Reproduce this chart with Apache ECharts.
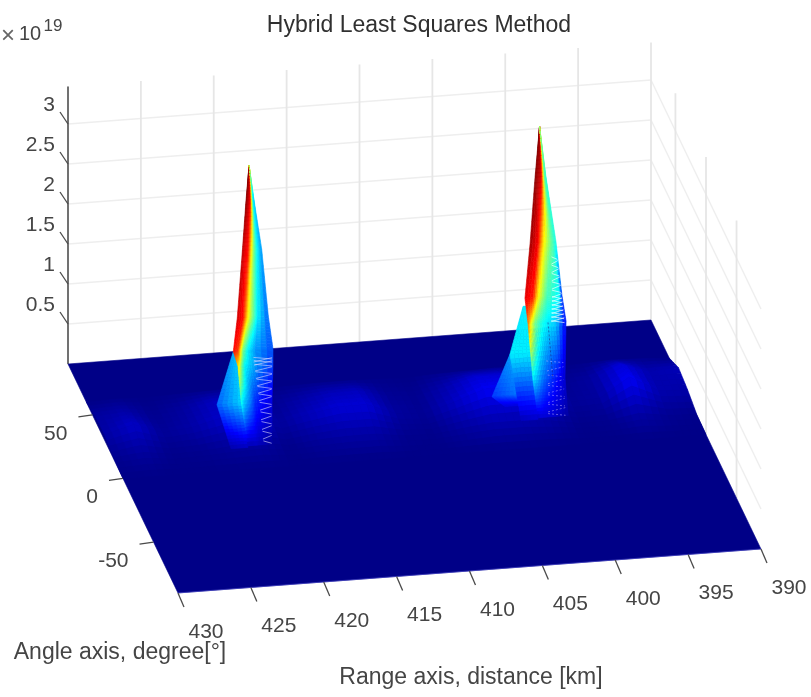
<!DOCTYPE html>
<html><head><meta charset="utf-8">
<style>html,body{margin:0;padding:0;background:#fff}#c{width:811px;height:697px}</style>
<script src="https://cdn.jsdelivr.net/npm/echarts@6/dist/echarts.min.js"></script>
</head><body><div id="c"></div>
<script>
// ---------- data ----------
const titleText = 'Hybrid Least Squares Method';
const rangeLabel = 'Range axis, distance [km]';
const angleLabel = 'Angle axis, degree[°]';
const rangeTicks = [430,425,420,415,410,405,400,395,390];
const angleTicks = [50,0,-50];
const zTicks = [0.5,1,1.5,2,2.5,3];
const zTickLabels = ['0.5','1','1.5','2','2.5','3'];
const zTop = 3.47;

// low ripples on the floor (z, units of 1e19)
const floorRanges = [430,428,426,424,422,420,418,416,414,412,410,408,406,404,402,400,398,396,394,392,390];
const floorAngles = [60,45,30,15,0];
const floorZ = [
 [.00,.01,.00,.01,.02,.03,.00,.01,.02,.02,.01,.00,.02,.03,.04,.03,.00,.01,.03,.02,.00],
 [.06,.09,.02,.06,.14,.16,.03,.08,.13,.14,.04,.02,.10,.20,.20,.14,.03,.06,.22,.10,.12],
 [.07,.17,.04,.08,.17,.20,.05,.13,.20,.20,.06,.03,.15,.28,.30,.20,.04,.06,.30,.10,.08],
 [.02,.06,.01,.02,.05,.07,.01,.05,.07,.07,.02,.01,.06,.10,.10,.07,.01,.02,.08,.03,.01],
 [.00,.00,.00,.00,.00,.00,.00,.00,.00,.00,.00,.00,.00,.00,.00,.00,.00,.00,.00,.00,.00]
];

// left peak: a coarse surface patch (rows top to foot, columns left to right)
const leftRanges = [
 [419.98,419.98,419.98,419.98,419.98,419.98,419.98],
 [420.19,420.09,419.98,419.87,419.78,419.69,419.64],
 [420.44,420.26,420.03,419.80,419.64,419.41,419.11],
 [420.79,420.37,420.21,420.03,419.73,419.41,418.66],
 [421.06,420.72,420.53,420.39,420.05,419.57,418.34],
 [420.74,420.60,420.46,420.26,419.91,419.43,418.34],
 [420.53,420.39,420.12,419.85,419.57,419.09,418.40],
 [420.74,420.60,420.39,420.19,419.91,419.50,419.09]
];
const leftAngles = [32.7,32.7,32.7,32.7,32.7,32.7,32.7,16.4];
const leftZ = [3.26,2.82,2.195,1.357,.945,.7575,.32,.02];
const leftC = [
 [1,1,.99,.97,.92,.7,.5],
 [1,.96,.92,.88,.6,.38,.33],
 [.95,.9,.87,.63,.5,.37,.27],
 [.92,.86,.75,.63,.5,.37,.22],
 [.87,.82,.63,.5,.37,.28,.2],
 [.68,.6,.48,.38,.33,.27,.18],
 [.42,.36,.3,.25,.18,.14,.1],
 [.05,.05,.05,.06,.05,.04,.02]
];
const leftWingRanges = [[421.06,420.74],[422.18,420.39],[421.90,420.74]];
const leftWingAngles = [32.7,32.7,16.4];
const leftWingZ = [.945,.295,0];
const leftWingC = [[.3,.33],[.22,.34],[.04,.06]];

// right peak
const rightRanges = [
 [400.05,400.05,400.05,400.05,400.05,400.05,400.05],
 [400.36,400.19,399.97,399.88,399.74,399.67,399.61],
 [400.70,400.15,399.95,399.74,399.33,399.13,398.92],
 [401.05,400.48,400.13,399.74,399.54,398.65,398.51],
 [400.84,400.63,400.36,399.88,399.47,398.92,398.23],
 [400.50,400.15,399.81,399.47,399.13,398.65,398.30],
 [400.64,400.43,400.15,399.95,399.61,399.13,398.58]
];
const rightAngles = [32.7,32.7,32.7,32.7,32.7,32.7,21.1];
const rightZ = [3.47,2.836,2.011,1.336,1.011,.299,.02];
const rightC = [
 [1,1,.99,.97,.85,.6,.5],
 [1,.96,.93,.85,.55,.45,.42],
 [.97,.88,.75,.63,.5,.45,.4],
 [.9,.85,.63,.5,.45,.37,.15],
 [.78,.63,.5,.4,.36,.33,.12],
 [.35,.3,.24,.2,.17,.12,.08],
 [.06,.08,.08,.08,.08,.06,.03]
];
const rightWingRanges = [[401.18,400.98],[402.08,400.63],[401.80,400.64]];
const rightWingAngles = [32.7,32.7,21.1];
const rightWingZ = [1.236,.649,0];
const rightWingC = [[.35,.36],[.36,.36],[.05,.07]];
const rightLobeRanges = [[402.08,401.87],[403.31,401.53],[402.42,401.25]];
const rightLobeAngles = [32.7,32.7,32.7];
const rightLobeZ = [.649,.136,0];
const rightLobeC = [[.28,.3],[.18,.24],[.09,.09]];

// ---------- plot geometry ----------
const ORIGIN = [68,364];        // range 430, angle 90, z 0
const PER_KM = [14.575,-1.1];
const PER_DEG = [0.611,1.272];
const PER_Z = 80;
const FLOOR_GAIN = 1.4;
const FONT = '"Liberation Sans",Arial,sans-serif';
const TXT = '#454545', GRID_V = '#e6e6e6', GRID_H = '#eeeeee';

function project(r,a,z){
  const u = 430-r, v = 90-a;
  return [ORIGIN[0]+PER_KM[0]*u+PER_DEG[0]*v, ORIGIN[1]+PER_KM[1]*u+PER_DEG[1]*v-PER_Z*z];
}
function jet(c){
  c = Math.max(0,Math.min(1,c));
  const seg = (stops)=>{
    for(let i=1;i<stops.length;i++){
      if(c<=stops[i][0]){const t=(c-stops[i-1][0])/(stops[i][0]-stops[i-1][0]);return stops[i-1][1]+(stops[i][1]-stops[i-1][1])*t;}
    }
    return stops[stops.length-1][1];
  };
  const r = seg([[0,0],[.375,0],[.625,255],[.875,255],[1,128]]);
  const g = seg([[0,0],[.125,0],[.375,255],[.625,255],[.875,0],[1,0]]);
  const b = seg([[0,135],[.125,255],[.375,255],[.625,0],[1,0]]);
  return 'rgb('+Math.round(r)+','+Math.round(g)+','+Math.round(b)+')';
}
const lerp=(p,q,t)=>p+(q-p)*t;
function patchPoint(m,ci,rj){
  const j0=Math.min(Math.floor(rj),m.ranges.length-2), i0=Math.min(Math.floor(ci),m.ranges[0].length-2);
  const t=rj-j0,s=ci-i0;
  const mix=(g)=>lerp(lerp(g[j0][i0],g[j0][i0+1],s),lerp(g[j0+1][i0],g[j0+1][i0+1],s),t);
  return {r:mix(m.ranges),a:lerp(m.angles[j0],m.angles[j0+1],t),z:lerp(m.z[j0],m.z[j0+1],t),c:mix(m.c)};
}
const leftPeak={ranges:leftRanges,angles:leftAngles,z:leftZ,c:leftC};
const rightPeak={ranges:rightRanges,angles:rightAngles,z:rightZ,c:rightC};
const leftWing={ranges:leftWingRanges,angles:leftWingAngles,z:leftWingZ,c:leftWingC};
const rightWing={ranges:rightWingRanges,angles:rightWingAngles,z:rightWingZ,c:rightWingC};
const rightLobe={ranges:rightLobeRanges,angles:rightLobeAngles,z:rightLobeZ,c:rightLobeC};

function renderItem(params,api){
  const P=(r,a,z)=>api.coord(project(r,a,z));
  const kids=[];
  const line=(p,q,stroke,w,op,dash)=>kids.push({type:'line',shape:{x1:p[0],y1:p[1],x2:q[0],y2:q[1]},style:{stroke:stroke,lineWidth:w,opacity:op==null?1:op,lineDash:dash||null}});
  const text=(x,y,t,size,align,fill)=>kids.push({type:'text',style:{x:x,y:y,text:t,fill:fill||TXT,fontSize:size,fontFamily:FONT,align:align||'center',verticalAlign:'middle'}});
  const poly=(pts,col)=>kids.push({type:'polygon',shape:{points:pts},style:{fill:col,stroke:col,lineWidth:.6}});

  // walls
  zTicks.forEach(z=>{
    line(P(430,90,z),P(390,90,z),GRID_H,1.4);
    line(P(390,90,z),P(390,-90,z),GRID_H,1.4);
  });
  rangeTicks.forEach(r=>line(P(r,90,0),P(r,90,zTop),GRID_V,1.8));
  angleTicks.forEach(a=>line(P(390,a,0),P(390,a,zTop),GRID_V,1.8));
  // z axis
  line(P(430,90,0),P(430,90,zTop),'#4a4a4a',1.5);
  zTicks.forEach((z,i)=>{
    const p=P(430,90,z);
    line([p[0]-8,p[1]-12],p,'#4a4a4a',1.3);
    text(55,p[1]-19,zTickLabels[i],21,'right');
  });
  // floor
  poly([P(430,90,0),P(390,90,0),P(390,-90,0),P(430,-90,0)],jet(0));
  const sub=4;
  for(let j=0;j<floorAngles.length-1;j++)for(let i=0;i<floorRanges.length-1;i++){
    for(let sj=0;sj<sub;sj++)for(let si=0;si<sub;si++){
      const pt=(a,b)=>{
        const s=(si+a)/sub,t=(sj+b)/sub;
        const z=lerp(lerp(floorZ[j][i],floorZ[j][i+1],s),lerp(floorZ[j+1][i],floorZ[j+1][i+1],s),t);
        return {p:P(lerp(floorRanges[i],floorRanges[i+1],s),lerp(floorAngles[j],floorAngles[j+1],t),z),z:z};
      };
      const q=[pt(0,0),pt(1,0),pt(1,1),pt(0,1)];
      poly(q.map(o=>o.p),jet(FLOOR_GAIN*(q[0].z+q[1].z+q[2].z+q[3].z)/4/zTop));
    }
  }
  line(P(430,-90,0),P(390,-90,0),'#4848c8',1,.6);
  // peak patches
  const drawPatch=(m,nc,nr)=>{
    const cols=m.ranges[0].length-1,rows=m.ranges.length-1;
    for(let j=0;j<rows*nr;j++)for(let i=0;i<cols*nc;i++){
      const q=[[i,j],[i+1,j],[i+1,j+1],[i,j+1]].map(o=>patchPoint(m,o[0]/nc,o[1]/nr));
      poly(q.map(o=>P(o.r,o.a,o.z)),jet((q[0].c+q[1].c+q[2].c+q[3].c)/4));
    }
  };
  const hatch=(m,c0,c1,r0,r1,n,col,w,op,dash)=>{
    for(let k=0;k<=n;k++){
      const rj=lerp(r0,r1,k/n);
      const a=patchPoint(m,c0,rj),b=patchPoint(m,c1,rj);
      const pa=P(a.r,a.a,a.z),pb=P(b.r,b.a,b.z);
      const tilt=k%2?1.5:-1.5;
      line([pa[0],pa[1]+tilt],[pb[0],pb[1]-tilt],col,w,op,dash);
    }
  };
  drawPatch(leftWing,5,14);
  drawPatch(leftPeak,3,12);
  hatch(leftPeak,4.6,5.95,4.6,6.95,22,'#dcd8ff',1,.6);
  drawPatch(rightLobe,6,10);
  drawPatch(rightWing,5,14);
  drawPatch(rightPeak,3,12);
  hatch(rightPeak,4.4,5.85,2.3,4,22,'#ffffff',1,.65);
  hatch(rightPeak,3,5.7,4.7,5.95,10,'#e8d8ff',.9,.45,[2,2]);
  const d0=patchPoint(rightPeak,4,4),d1=patchPoint(rightPeak,4,5);
  line(P(d0.r,d0.a,d0.z),P(d1.r,d1.a,d1.z),'#202070',1,.5,[2,2]);

  // range axis ticks and labels
  rangeTicks.forEach(r=>{
    const p=P(r,-90,0);
    line(p,[p[0]+6,p[1]+14],'#4a4a4a',1.3);
    text(p[0]+28,p[1]+39,String(r),21);
  });
  // angle axis ticks and labels
  angleTicks.forEach(a=>{
    const p=P(430,a,0);
    line(p,[p[0]-14,p[1]+2],'#4a4a4a',1.3);
    text(p[0]-25,p[1]+19,String(a),21,'right');
  });
  // axis labels and exponent
  text(120,653,angleLabel,23);
  text(471,678,rangeLabel,23);
  text(8,36,'×',24,'center','#666');
  text(30,34,'10',20);
  text(53,26,'19',17);
  return {type:'group',children:kids};
}

const chart=echarts.init(document.getElementById('c'),null,{renderer:'canvas'});
chart.setOption({
  animation:false,
  backgroundColor:'#fff',
  title:{text:titleText,left:414,top:9,textAlign:'center',textStyle:{fontFamily:FONT,fontSize:23,fontWeight:'normal',color:'#303030'}},
  grid:{left:0,right:0,top:0,bottom:0},
  xAxis:{type:'value',min:0,max:811,show:false},
  yAxis:{type:'value',min:0,max:697,inverse:true,show:false},
  tooltip:{show:false},
  series:[{type:'custom',silent:true,clip:false,coordinateSystem:'cartesian2d',renderItem:renderItem,data:[[0,0]]}]
});
</script></body></html>
